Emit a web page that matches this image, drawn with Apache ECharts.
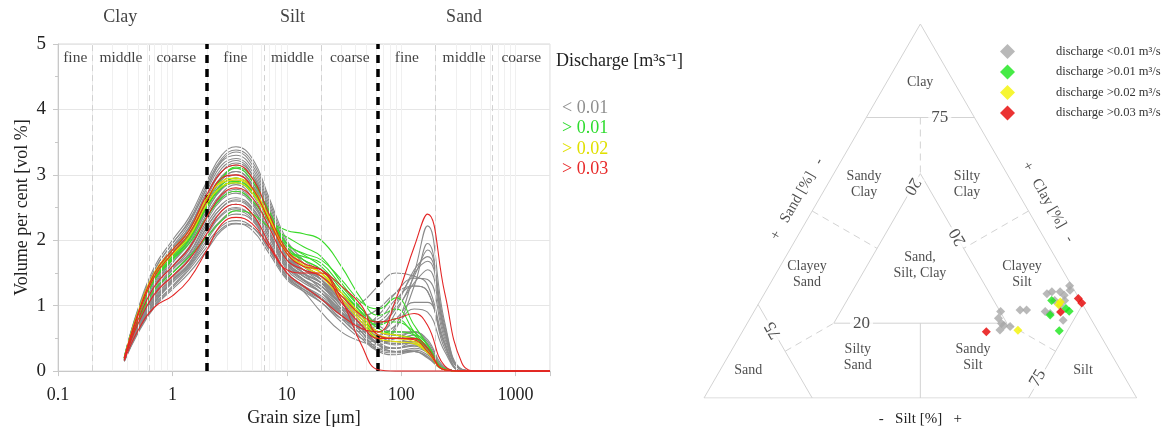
<!DOCTYPE html>
<html><head><meta charset="utf-8">
<script src="https://cdn.jsdelivr.net/npm/echarts@6/dist/echarts.min.js"></script>
<style>html,body{margin:0;padding:0;background:#fff}#c{width:1162px;height:432px}</style>
</head><body><div id="c"></div>
<script>
// ---------------- DATA ----------------
const grainSizes = [0.38,0.5,0.7,1,1.4,2,2.7,3.6,5,7,10,14,20,30,45,63,90,130,170,240,340,480,2000];

const curvesBelow001 = [
[0.22,0.95,1.6,2.0,2.35,2.9,3.3,3.43,3.25,2.65,2.0,1.7,1.5,1.1,0.7,0.4,0.3,0.32,0.25,0.03,0,0,0],
[0.2,0.9,1.55,1.95,2.3,2.85,3.25,3.38,3.2,2.6,1.95,1.65,1.4,1.0,0.6,0.35,0.3,0.35,0.28,0.03,0,0,0],
[0.21,0.92,1.5,1.9,2.25,2.8,3.2,3.3,3.1,2.5,1.85,1.6,1.45,1.1,0.75,0.45,0.35,0.4,0.3,0.03,0,0,0],
[0.2,0.88,1.48,1.88,2.2,2.75,3.15,3.25,3.05,2.45,1.8,1.55,1.35,1.0,0.65,0.4,0.3,0.3,0.22,0.02,0,0,0],
[0.19,0.85,1.45,1.85,2.2,2.7,3.1,3.22,3.0,2.4,1.85,1.65,1.5,1.2,0.8,0.5,0.4,0.45,0.32,0.03,0,0,0],
[0.2,0.86,1.4,1.8,2.15,2.65,3.05,3.15,2.95,2.35,1.75,1.55,1.4,1.05,0.7,0.45,0.45,0.5,0.36,0.04,0,0,0],
[0.2,0.84,1.42,1.82,2.1,2.6,2.98,3.1,2.9,2.3,1.7,1.45,1.3,0.95,0.6,0.35,0.35,0.45,0.33,0.03,0,0,0],
[0.19,0.8,1.35,1.75,2.05,2.55,2.92,3.05,2.85,2.35,1.8,1.6,1.45,1.15,0.85,0.55,0.5,0.55,0.4,0.04,0,0,0],
[0.18,0.78,1.3,1.7,2.0,2.5,2.88,3.0,2.82,2.3,1.75,1.5,1.35,1.0,0.65,0.4,0.35,0.4,0.3,0.03,0,0,0],
[0.18,0.75,1.25,1.65,1.95,2.45,2.8,2.92,2.75,2.25,1.72,1.55,1.45,1.2,0.9,0.6,0.55,0.6,0.45,0.05,0,0,0],
[0.18,0.75,1.22,1.6,1.9,2.4,2.72,2.85,2.65,2.15,1.65,1.45,1.3,1.0,0.7,0.55,0.7,0.95,0.9,0.3,0,0,0],
[0.17,0.72,1.2,1.55,1.85,2.35,2.68,2.78,2.6,2.1,1.6,1.4,1.25,0.95,0.6,0.45,0.5,0.6,0.48,0.06,0,0,0],
[0.17,0.7,1.18,1.55,1.8,2.3,2.62,2.72,2.55,2.1,1.62,1.45,1.3,1.05,0.8,0.6,0.55,0.5,0.38,0.04,0,0,0],
[0.17,0.7,1.15,1.5,1.78,2.25,2.55,2.65,2.5,2.05,1.55,1.35,1.2,0.95,0.85,0.95,1.2,1.3,1.22,0.4,0,0,0],
[0.17,0.68,1.12,1.45,1.72,2.2,2.5,2.6,2.45,2.0,1.5,1.3,1.1,0.85,0.7,0.75,1.05,1.5,1.68,0.6,0.02,0,0],
[0.16,0.66,1.1,1.42,1.7,2.15,2.45,2.55,2.4,1.95,1.48,1.28,1.1,0.8,0.6,0.6,0.9,1.45,1.85,0.65,0.02,0,0],
[0.16,0.62,1.05,1.35,1.6,2.0,2.3,2.4,2.3,1.88,1.45,1.25,1.05,0.75,0.5,0.45,0.7,1.5,2.22,0.75,0.03,0,0],
[0.16,0.64,1.06,1.38,1.62,2.05,2.32,2.45,2.32,1.9,1.45,1.22,0.9,0.6,0.45,0.4,0.65,1.3,1.95,0.7,0.02,0,0],
[0.15,0.6,1.02,1.3,1.58,1.95,2.22,2.3,2.2,1.85,1.42,1.25,1.1,0.95,1.05,1.3,1.5,1.45,1.32,0.45,0,0,0],
[0.15,0.6,1.0,1.28,1.55,1.9,2.18,2.26,2.15,1.8,1.4,1.22,1.05,0.8,0.7,0.85,1.2,1.42,1.4,0.5,0.02,0,0],
[0.16,0.65,1.08,1.4,1.65,2.1,2.4,2.5,2.35,1.92,1.5,1.3,1.12,0.85,0.65,0.7,1.0,1.55,1.75,0.62,0.02,0,0],
[0.17,0.7,1.15,1.5,1.75,2.2,2.5,2.62,2.48,2.05,1.58,1.38,1.2,0.9,0.65,0.6,0.8,1.05,1.05,0.35,0,0,0],
[0.15,0.58,0.98,1.25,1.5,1.85,2.15,2.25,2.2,1.85,1.45,1.3,1.15,0.9,0.75,0.8,1.1,1.3,1.22,0.42,0,0,0],
[0.19,0.82,1.38,1.78,2.08,2.58,2.95,3.05,2.85,2.3,1.65,1.4,1.2,0.85,0.5,0.3,0.25,0.3,0.22,0.02,0,0,0],
[0.2,0.85,1.45,1.85,2.18,2.7,3.05,3.18,3.0,2.45,1.8,1.5,1.25,0.9,0.55,0.32,0.28,0.3,0.2,0.02,0,0,0],
[0.18,0.76,1.28,1.66,1.98,2.45,2.78,2.88,2.7,2.2,1.7,1.5,1.35,1.1,0.8,0.55,0.45,0.45,0.32,0.03,0,0,0],
[0.17,0.72,1.2,1.58,1.88,2.35,2.65,2.75,2.58,2.12,1.65,1.48,1.35,1.15,0.95,0.7,0.6,0.6,0.42,0.04,0,0,0],
[0.22,0.93,1.55,1.95,2.28,2.8,3.22,3.35,3.15,2.55,1.9,1.6,1.4,1.05,0.7,0.42,0.35,0.38,0.28,0.03,0,0,0],
[0.16,0.64,1.05,1.38,1.64,2.08,2.38,2.48,2.36,1.95,1.5,1.3,1.12,0.88,0.7,0.72,0.95,1.35,1.55,0.55,0.02,0,0],
[0.18,0.78,1.32,1.72,2.02,2.5,2.85,2.95,2.78,2.28,1.75,1.55,1.4,1.1,0.75,0.5,0.42,0.42,0.3,0.03,0,0,0]
];
const curvesAbove001 = [
[0.2,0.85,1.4,1.7,1.95,2.35,2.65,2.75,2.6,2.3,2.15,2.1,2.0,1.6,1.1,0.85,0.95,0.6,0.35,0.03,0,0,0],
[0.22,0.9,1.5,1.8,2.1,2.6,2.95,3.1,2.9,2.45,1.95,1.8,1.7,1.4,1.05,0.95,1.12,0.7,0.4,0.03,0,0,0],
[0.2,0.85,1.45,1.75,2.05,2.55,2.85,2.95,2.8,2.35,1.85,1.75,1.65,1.3,0.95,0.75,0.75,0.6,0.4,0.03,0,0,0],
[0.2,0.82,1.4,1.7,2.0,2.5,2.8,2.88,2.72,2.3,1.85,1.7,1.55,1.2,0.85,0.6,0.6,0.55,0.35,0.02,0,0,0],
[0.19,0.75,1.25,1.5,1.75,2.05,2.3,2.45,2.4,2.2,2.05,1.9,1.75,1.35,0.95,0.7,0.8,0.55,0.3,0.02,0,0,0],
[0.21,0.88,1.48,1.78,2.08,2.6,2.95,3.12,2.95,2.4,1.9,1.7,1.55,1.2,0.9,0.65,0.55,0.5,0.35,0.02,0,0,0],
[0.2,0.85,1.42,1.72,2.02,2.52,2.82,2.9,2.75,2.35,1.95,1.78,1.6,1.25,0.88,0.5,0.5,0.5,0.35,0.02,0,0,0]
];
const curvesAbove002 = [
[0.2,0.88,1.5,1.8,2.1,2.62,2.9,2.95,2.8,2.35,1.85,1.65,1.5,1.15,0.8,0.55,0.5,0.45,0.3,0.02,0,0,0],
[0.2,0.9,1.52,1.85,2.15,2.65,2.88,2.92,2.78,2.32,1.8,1.6,1.45,1.1,0.75,0.5,0.45,0.42,0.28,0.02,0,0,0],
[0.19,0.85,1.45,1.78,2.05,2.55,2.82,2.88,2.72,2.3,1.8,1.62,1.5,1.2,0.85,0.6,0.55,0.48,0.3,0.02,0,0,0]
];
const curvesAbove003 = [
[0.18,0.72,1.18,1.45,1.7,2.1,2.45,2.55,2.4,1.95,1.5,1.3,1.1,0.85,0.65,0.6,1.1,1.9,2.4,1.2,0.12,0,0],
[0.19,0.78,1.3,1.6,1.88,2.35,2.7,2.8,2.65,2.2,1.7,1.55,1.45,1.15,0.85,0.75,0.8,0.88,0.7,0.08,0,0,0],
[0.2,0.85,1.45,1.8,2.1,2.6,2.95,3.0,2.8,2.3,1.8,1.6,1.55,1.1,0.4,0.02,0,0,0,0,0,0,0],
[0.2,0.88,1.5,1.85,2.15,2.7,3.05,3.15,2.95,2.4,1.85,1.65,1.55,1.3,1.0,0.55,0.5,0.5,0.35,0.02,0,0,0],
[0.16,0.62,0.98,1.15,1.4,1.85,2.25,2.35,2.25,1.9,1.55,1.5,1.5,1.05,0.7,0.5,0.5,0.48,0.3,0.02,0,0,0]
];
const dischargeClasses = ['< 0.01', '> 0.01', '> 0.02', '> 0.03'];

// ternary samples: [sand %, silt %, clay %]
const ternBelow001 = [[19.9,57.0,23.1],[15.2,61.3,23.5],[13.7,62.8,23.5],[21.3,57.4,21.3],[21.3,58.8,19.9],[19.7,61.2,19.1],[22.5,59.3,18.2],[21.0,59.6,19.4],[6.8,65.3,27.9],[5.4,66.2,28.4],[3.5,68.1,28.4],[3.0,69.5,27.5],[1.0,70.2,28.8],[0.5,69.5,30.0],[9.6,67.3,23.1],[8.7,68.7,22.6],[6.6,72.6,20.8],[5.3,69.9,24.8],[5.9,68.0,26.1],[3.6,70.3,26.1]];
const ternAbove001 = [[6.6,67.3,26.1],[8.9,68.9,22.2],[4.4,71.7,23.9],[4.0,72.8,23.2],[8.9,73.1,18.0]];
const ternAbove002 = [[18.4,63.5,18.1],[5.6,69.5,24.9],[4.8,69.5,25.7]];
const ternAbove003 = [[25.9,56.4,17.7],[6.1,70.9,23.0],[0.2,73.2,26.6],[0.0,74.6,25.4]];
const ternClasses = ['discharge <0.01 m³/s','discharge >0.01 m³/s','discharge >0.02 m³/s','discharge >0.03 m³/s'];

// ---------------- STYLE / LAYOUT ----------------
const FONT = '"Liberation Serif","Times New Roman",serif';
const lineColors = ['#8a8a8a','#3ada2a','#e2e200','#e32626'];
const legendColors = ['#8f8f8f','#2edc2e','#e0e000','#e82a2a'];
const diamondColors = ['#a8a8a8','#18e618','#f4f400','#e60000'];

function tern(p){ return [p[1] + p[2]/2, p[2]]; }

const series = [];
[curvesBelow001, curvesAbove001, curvesAbove002, curvesAbove003].forEach((group, gi) => {
  group.forEach(c => series.push({
    type:'line', name: dischargeClasses[gi], xAxisIndex:0, yAxisIndex:0,
    data: grainSizes.map((x,i)=>[x, c[i]]), smooth:0.45, showSymbol:false, symbol:'none',
    lineStyle:{width:1.1, color: lineColors[gi]}, itemStyle:{color: lineColors[gi]},
    silent:true, z: 3 + gi
  }));
});

// left chart vertical guides
const minorGrid = [];
[0.1,1,10,100,1000].forEach(d => { for (let k=1;k<=9;k++){ const v=d*k; if (v<=2000 && v>0.1) minorGrid.push(v); } });
const subclassBounds = [0.2,0.63,6.3,20,200,630];
const textureBounds = [2,63];
series.push({
  type:'line', xAxisIndex:0, yAxisIndex:0, data:[], silent:true, z:1,
  markLine:{ symbol:['none','none'], silent:true, animation:false, label:{show:false},
    data: minorGrid.map(v=>({xAxis:v, lineStyle:{color:'#f0f0f0', width:1, type:'solid'}}))
      .concat(subclassBounds.map(v=>({xAxis:v, lineStyle:{color:'#d2d2d2', width:1, type:[6,4]}})))
  }
});
series.push({
  type:'line', xAxisIndex:0, yAxisIndex:0, data:[], silent:true, z:20,
  markLine:{ symbol:['none','none'], silent:true, animation:false, label:{show:false},
    data: textureBounds.map(v=>({xAxis:v, lineStyle:{color:'#000', width:3.5, type:[8,6]}}))
  }
});

// left chart header labels
const headerLabels = [
  {name:'Clay', value:[0.35,5.41], size:18},
  {name:'Silt', value:[11.2,5.41], size:18},
  {name:'Sand', value:[355,5.41], size:18},
  {name:'fine', value:[0.1414,4.79], size:15.5},
  {name:'middle', value:[0.355,4.79], size:15.5},
  {name:'coarse', value:[1.08,4.79], size:15.5},
  {name:'fine', value:[3.55,4.79], size:15.5},
  {name:'middle', value:[11.2,4.79], size:15.5},
  {name:'coarse', value:[35.5,4.79], size:15.5},
  {name:'fine', value:[112,4.79], size:15.5},
  {name:'middle', value:[355,4.79], size:15.5},
  {name:'coarse', value:[1122,4.79], size:15.5}
];
series.push({
  type:'scatter', xAxisIndex:0, yAxisIndex:0, clip:false, silent:true, z:30,
  symbolSize:1, itemStyle:{color:'rgba(255,255,255,0)'},
  label:{show:true, position:'inside', formatter:'{b}', color:'#111', textBorderWidth:0, fontFamily:FONT},
  data: headerLabels.map(h=>({name:h.name, value:h.value, label:{fontSize:h.size}}))
});

// ternary frame and class boundaries
const solidSegs = [
  [[100,0,0],[0,100,0],[0,0,100],[100,0,0]],
  [[25,0,75],[0,25,75]],
  [[75,0,25],[75,25,0]],
  [[25,75,0],[0,75,25]],
  [[20,20,60],[60,20,20],[20,60,20],[20,20,60]],
  [[50,50,0],[40,40,20]]
];
const dashedSegs = [
  [[12.5,12.5,75],[20,20,60]],
  [[75,12.5,12.5],[60,20,20]],
  [[12.5,75,12.5],[20,60,20]],
  [[50,0,50],[40,20,40]],
  [[0,50,50],[20,40,40]]
];
solidSegs.forEach(s => series.push({type:'line', xAxisIndex:1, yAxisIndex:1, data:s.map(tern), symbol:'none', silent:true, z:1,
  lineStyle:{color:'#d3d3d3', width:1}}));
dashedSegs.forEach(s => series.push({type:'line', xAxisIndex:1, yAxisIndex:1, data:s.map(tern), symbol:'none', silent:true, z:1,
  lineStyle:{color:'#d3d3d3', width:1, type:[7,5]}}));

// ternary samples
[ternBelow001, ternAbove001, ternAbove002, ternAbove003].forEach((g, gi) => series.push({
  type:'scatter', name: ternClasses[gi], xAxisIndex:1, yAxisIndex:1, symbol:'diamond', symbolSize:9,
  itemStyle:{color: diamondColors[gi]}, data: g.map(tern), silent:true, z: 6 + gi
}));

// ternary text
const ternText = [
  {t:'Clay', p:[7.9,7.8,84.3], s:14},
  {t:'Sandy\nClay', p:[34.4,8.4,57.2], s:14},
  {t:'Silty\nClay', p:[10.6,32.2,57.2], s:14},
  {t:'Sand,\nSilt, Clay', p:[32.3,32.1,35.6], s:14},
  {t:'Clayey\nSand', p:[59.7,7.3,33.0], s:14},
  {t:'Clayey\nSilt', p:[10,57.0,33.0], s:14},
  {t:'Silty\nSand', p:[59.0,30.1,10.9], s:14},
  {t:'Sandy\nSilt', p:[32.4,56.7,10.9], s:14},
  {t:'Sand', p:[86.1,6.5,7.4], s:14},
  {t:'Silt', p:[8.7,83.9,7.4], s:14},
  {t:'75', p:[8,17,75], s:17, bg:true},
  {t:'20', p:[53.6,26.4,20], s:17, bg:true},
  {t:'20', p:[23.6,19.8,56.6], s:17, bg:true, r:-120},
  {t:'20', p:[19.8,37.1,43.1], s:17, bg:true, r:120},
  {t:'75', p:[75,6.9,18.1], s:17, bg:true, r:120},
  {t:'75', p:[20.2,74.5,5.3], s:17, bg:true, r:60},
  {t:'+   Sand [%]   -', p:[51.9,-5.1,53.2], s:15, r:60},
  {t:'+   Clay [%]   -', p:[-5.7,53.3,52.4], s:15, r:-60}
];
series.push({
  type:'scatter', xAxisIndex:1, yAxisIndex:1, clip:false, silent:true, z:30,
  symbolSize:1, itemStyle:{color:'rgba(255,255,255,0)'},
  label:{show:true, position:'inside', formatter:'{b}', color:'#222', textBorderWidth:0, fontFamily:FONT, lineHeight:16},
  data: ternText.map(o=>({name:o.t, value:tern(o.p), label:Object.assign({fontSize:o.s, rotate:o.r||0},
      o.bg ? {backgroundColor:'#fff', padding:[0,3]} : {})}))
});

const option = {
  animation:false,
  backgroundColor:'#fff',
  title:{text:'Discharge [m³s⁻¹]', left:556, top:52, padding:0,
    textStyle:{fontFamily:FONT, fontSize:18, fontWeight:'normal', color:'#222'}},
  legend:[
    {data: dischargeClasses.map((n,i)=>({name:n, textStyle:{color:legendColors[i]}})),
     orient:'vertical', left:552, top:94, icon:'rect', itemWidth:0, itemHeight:0, itemGap:2.5,
     selectedMode:false, textStyle:{fontFamily:FONT, fontSize:18, lineHeight:18}},
    {data: ternClasses, orient:'vertical', left:995, top:39, icon:'diamond', itemWidth:15, itemHeight:15, itemGap:5.5,
     selectedMode:false, textStyle:{fontFamily:FONT, fontSize:12.5, color:'#333', padding:[0,0,0,36]}}
  ],
  grid:[
    {left:58, top:44, width:492, height:328, show:true, borderColor:'#d8d8d8', borderWidth:1},
    {left:704, top:24, width:432.7, height:376}
  ],
  xAxis:[
    {type:'log', logBase:10, gridIndex:0, min:0.1, max:2000,
     name:'Grain size [μm]', nameLocation:'middle', nameGap:36,
     nameTextStyle:{fontFamily:FONT, fontSize:18, color:'#222'},
     axisLine:{show:true, lineStyle:{color:'#c8c8c8'}},
     axisTick:{show:true, length:5, lineStyle:{color:'#c8c8c8'}},
     axisLabel:{fontFamily:FONT, fontSize:18, color:'#222', margin:15,
       formatter: v => { if (v > 1500) return ''; return v < 0.5 ? '0.1' : String(Math.round(v)); }},
     splitLine:{show:false}},
    {type:'value', gridIndex:1, min:0, max:100,
     name:'-   Silt [%]   +', nameLocation:'middle', nameGap:14,
     nameTextStyle:{fontFamily:FONT, fontSize:15, color:'#222'},
     axisLine:{show:false}, axisTick:{show:false}, axisLabel:{show:false}, splitLine:{show:false}}
  ],
  yAxis:[
    {type:'value', gridIndex:0, min:0, max:5, interval:1,
     name:'Volume per cent [vol %]', nameLocation:'middle', nameGap:27, nameRotate:90,
     nameTextStyle:{fontFamily:FONT, fontSize:18, color:'#222'},
     axisLine:{show:true, lineStyle:{color:'#c8c8c8'}},
     axisTick:{show:true, length:5, lineStyle:{color:'#c8c8c8'}},
     minorTick:{show:true, splitNumber:2, length:3, lineStyle:{color:'#c8c8c8'}},
     axisLabel:{fontFamily:FONT, fontSize:19, color:'#222', margin:12},
     splitLine:{show:true, lineStyle:{color:'#e6e6e6'}}},
    {type:'value', gridIndex:1, min:0, max:100, show:false}
  ],
  series: series
};
const chart = echarts.init(document.getElementById('c'), null, {renderer:'canvas'});
chart.setOption(option);
</script>
</body></html>
